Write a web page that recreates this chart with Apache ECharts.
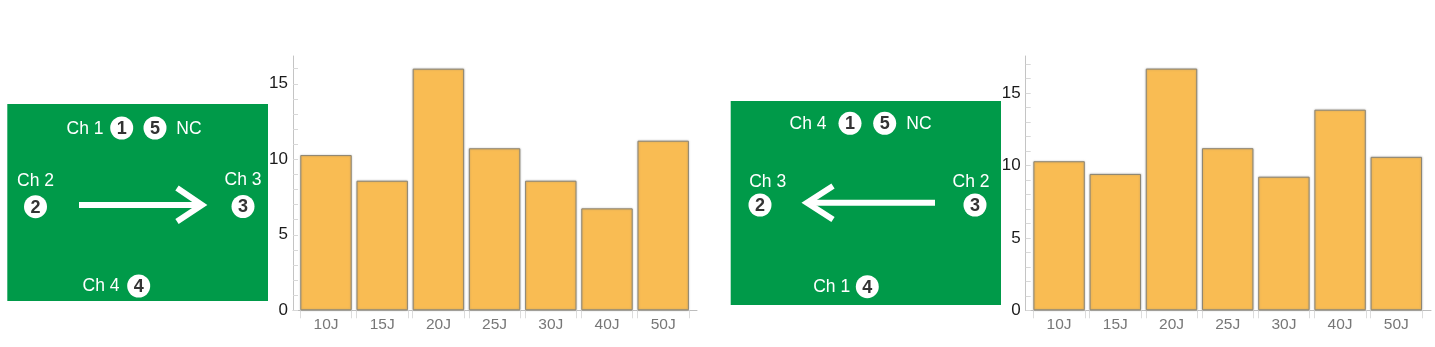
<!DOCTYPE html>
<html>
<head>
<meta charset="utf-8">
<style>html,body{margin:0;padding:0;background:#fff}#c{width:1435px;height:347px}</style>
<script src="https://cdn.jsdelivr.net/npm/echarts@6/dist/echarts.min.js"></script>
</head>
<body>
<div id="c"></div>
<script>
const categories = ['10J','15J','20J','25J','30J','40J','50J'];
const leftValues = [10.28,8.58,16.0,10.73,8.58,6.75,11.23];
const rightValues = [10.3,9.42,16.7,11.2,9.23,13.86,10.6];
const yTickLabels = [0,5,10,15];
const leftYMax = 16.84;
const rightYMax = 17.57;
const minorTicksLeft = [0,1,2,3,4,5,6,7,8,9,10,11,12,13,14,15,16];
const minorTicksRight = [0,1,2,3,4,5,6,7,8,9,10,11,12,13,14,15,16,17];

const FONT = '"Liberation Sans", Arial, sans-serif';
const chart = echarts.init(document.getElementById('c'), null, {renderer:'canvas'});

function txt(s,x,y){return {type:'text',z:12,style:{text:s,x,y:y+1.5,fill:'#fff',font:'17.5px '+FONT,textAlign:'center',textVerticalAlign:'middle'}};}
function badge(s,x,y){return [
  {type:'circle',z:12,shape:{cx:x,cy:y,r:11.5},style:{fill:'#fff'}},
  {type:'text',z:13,style:{text:s,x,y:y+1,fill:'#333',font:'bold 18px '+FONT,textAlign:'center',textVerticalAlign:'middle'}}
];}
function arrow(x1,x2,y,ax,ay1,ay2,tip){return [
  {type:'line',z:12,shape:{x1,y1:y,x2,y2:y},style:{stroke:'#fff',lineWidth:6}},
  {type:'polyline',z:12,shape:{points:[[ax,ay1],[tip,y],[ax,ay2]]},style:{stroke:'#fff',lineWidth:6,fill:'none'}}
];}
const GREEN = '#009A49';
const graphic = [
  {type:'rect',z:10,shape:{x:7.3,y:104,width:260.7,height:197},style:{fill:GREEN}},
  txt('Ch 1',85,127.5),...badge('1',121.7,128),...badge('5',155,128),txt('NC',189,127.5),
  txt('Ch 2',35.5,180),...badge('2',35.5,206.7),
  txt('Ch 3',243,179),...badge('3',243,206.5),
  txt('Ch 4',101,285),...badge('4',138.7,286),
  ...arrow(79,199,205,177,188,221.5,202),
  {type:'rect',z:10,shape:{x:730.7,y:101,width:270.3,height:204},style:{fill:GREEN}},
  txt('Ch 4',808,122.5),...badge('1',850,123.3),...badge('5',884.7,123.3),txt('NC',919,122.5),
  txt('Ch 3',767.7,180.5),...badge('2',760,205),
  txt('Ch 2',971,181),...badge('3',975,205),
  txt('Ch 1',831.7,286),...badge('4',867.3,286.7),
  ...arrow(935,810,202.7,833,186,219.5,807)
];

const TOP=56, H=254.3;
function axisTicks(){ const out=[]; categories.forEach((c,i)=>{out.push(i-0.458,i+0.458);}); return out; }

function panel(idx,axisL,axisR,bandL,bandW,yMax,yTicks,values){
  const gridOuter={left:axisL,top:TOP,width:axisR-axisL,height:H};
  const gridInner={left:bandL,top:TOP,width:bandW*categories.length,height:H};
  const lo=-0.5-(bandL-axisL)/bandW, hi=lo+(axisR-axisL)/bandW;
  return {
    grids:[gridOuter,gridInner],
    xAxes:[
      {type:'value',gridIndex:idx*2,min:lo,max:hi,splitLine:{show:false},axisLabel:{show:false},
       axisLine:{show:true,onZero:false,lineStyle:{color:'#bdbdbd',width:1}},
       axisTick:{show:true,customValues:axisTicks(),length:8,inside:false,lineStyle:{color:'#dcdcdc',width:1}}},
      {type:'category',gridIndex:idx*2+1,data:categories,boundaryGap:true,
       axisLine:{show:false},axisTick:{show:false},
       axisLabel:{color:'#777',fontSize:15.5,fontFamily:FONT,margin:6,interval:0}}
    ],
    yAxes:[
      {type:'value',gridIndex:idx*2,min:0,max:yMax,splitLine:{show:false},
       axisLine:{show:true,onZero:false,lineStyle:{color:'#c4c4c4',width:1}},
       axisTick:{show:true,inside:true,length:5,customValues:yTicks,lineStyle:{color:'#d8d8d8',width:1}},
       axisLabel:{customValues:yTickLabels,color:'#1a1a1a',fontSize:17,fontFamily:FONT,margin:5,padding:[3,0,0,0]}},
      {type:'value',gridIndex:idx*2+1,min:0,max:yMax,show:false}
    ],
    series:{type:'bar',xAxisIndex:idx*2+1,yAxisIndex:idx*2+1,data:values,barWidth:'91.5%',z:3,
      itemStyle:{color:'#F9BC53',borderColor:'#8E8672',borderWidth:1,shadowBlur:2,shadowColor:'rgba(120,120,120,0.45)'},
      emphasis:{disabled:true},animation:false}
  };
}
const p0=panel(0,293,697,297.9,56.2,leftYMax,minorTicksLeft,leftValues);
const p1=panel(1,1025.7,1431,1031,56.2,rightYMax,minorTicksRight,rightValues);
chart.setOption({
  animation:false,
  backgroundColor:'#fff',
  grid:[...p0.grids,...p1.grids],
  xAxis:[...p0.xAxes,...p1.xAxes],
  yAxis:[...p0.yAxes,...p1.yAxes],
  series:[p0.series,p1.series],
  graphic:{elements:graphic}
});
</script>
</body>
</html>
